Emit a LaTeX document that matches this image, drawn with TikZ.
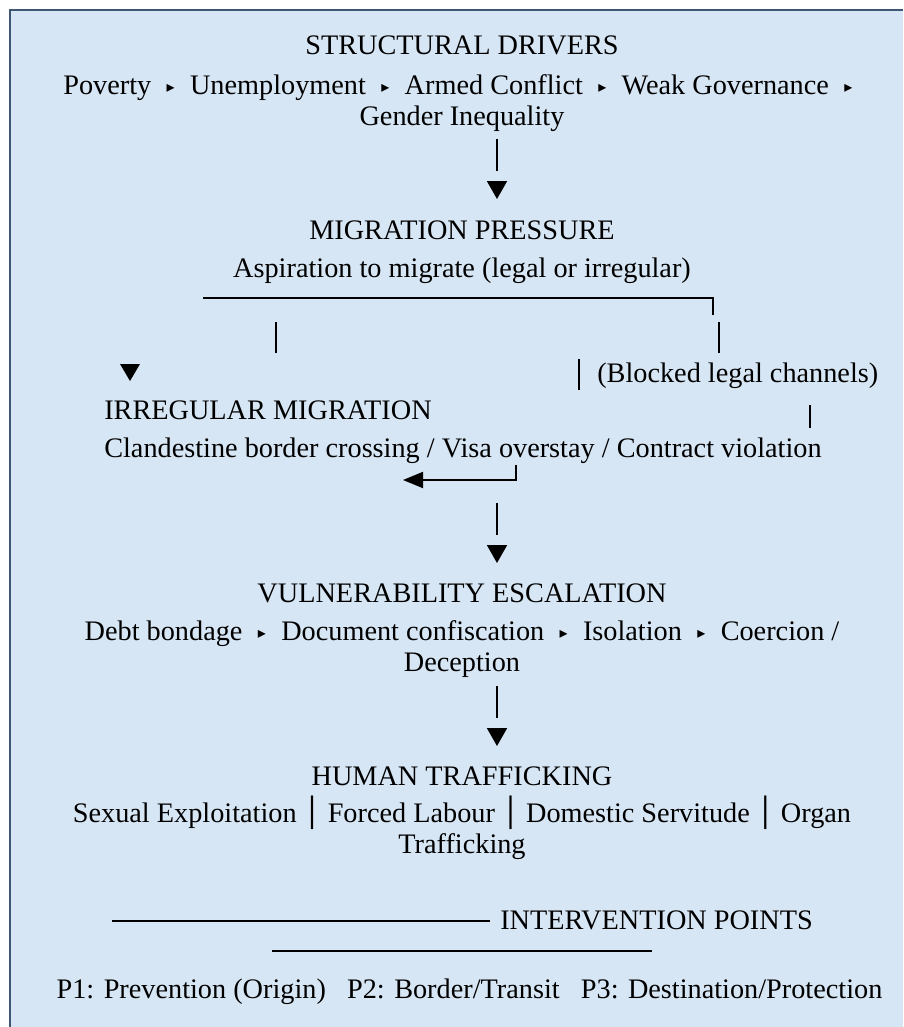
\documentclass[tikz,border=0pt]{standalone}
\usepackage{fontspec}
\setmainfont{Liberation Serif}
\newfontfamily\symfont{DejaVu Sans}
\usetikzlibrary{arrows.meta}
\definecolor{panel}{HTML}{D7E6F4}
\definecolor{frame}{HTML}{3F5675}
\newcommand{\nxt}{\makebox[18.5pt]{\raisebox{1.5pt}{\symfont\fontsize{12}{12}\selectfont ▸}}}
\newcommand{\sep}{{\symfont │}}

\begin{document}
\begin{tikzpicture}[x=0.75pt, y=-0.75pt, font=\fontsize{21.2}{23.25}\selectfont,
    txt/.style={anchor=base, inner sep=0pt, align=center},
    bar/.style={line width=1.4pt},
    down/.style={bar, dash pattern=on 24pt off 40pt, -{Triangle[width=15pt, length=13.5pt]}},
    back/.style={bar, -{Triangle[width=12pt, length=15pt]}}]
  \useasboundingbox (0,0) rectangle (903,1027);
  \fill[panel] (9.5,10.5) rectangle (903,1027);
  \draw[frame, line width=1.5pt] (903,10.5) -- (9.5,10.5) -- (9.5,1027);

  % stages (two-line nodes sit on their last line)
  \node[txt] (sd) at (462,55) {STRUCTURAL DRIVERS};
  \node[txt] (drv) at (462,126) {Poverty \nxt{} Unemployment \nxt{} Armed Conflict \nxt{} Weak Governance \nxt{}\\Gender Inequality};
  \node[txt] (mp) at (462,239) {MIGRATION PRESSURE};
  \node[txt] (asp) at (462,277) {Aspiration to migrate (legal or irregular)};
  \node[txt, anchor=base west] (blk) at (597,382) {(Blocked legal channels)};
  \node[txt, anchor=base west] (im) at (104,419) {IRREGULAR MIGRATION};
  \node[txt, anchor=base west] (imx) at (104,457) {Clandestine border crossing / Visa overstay / Contract violation};
  \node[txt] (ve) at (462,602) {VULNERABILITY ESCALATION};
  \node[txt] (vex) at (462,671) {Debt bondage \nxt{} Document confiscation \nxt{} Isolation \nxt{} Coercion /\\Deception};
  \node[txt] (ht) at (462,785) {HUMAN TRAFFICKING};
  \node[txt] (htx) at (462,853) {Sexual Exploitation \sep{} Forced Labour \sep{} Domestic Servitude \sep{} Organ\\Trafficking};
  \node[txt, anchor=base west] (ip) at (500,929) {INTERVENTION POINTS};
  \node[txt] (pts) at (469.5,998) {P1: Prevention (Origin)~~~P2: Border/Transit~~~P3: Destination/Protection};

  % connector ends
  \coordinate (s1) at (497,139);
  \coordinate (h1) at (497,199);
  \coordinate (s2) at (497,503);
  \coordinate (h2) at (497,563);
  \coordinate (s3) at (497,686);
  \coordinate (h3) at (497,746);
  \coordinate (fork) at (203,298);
  \coordinate (corner) at (713,298);
  \coordinate (cornerdn) at (713,315);
  \coordinate (bk) at (516,465);
  \coordinate (bkc) at (516,480);
  \coordinate (bkh) at (403,480);
  \coordinate (ipl) at (112,921);
  \coordinate (ipr) at (490,921);

  \draw[down] (s1) -- (h1);
  \draw[down] (s2) -- (h2);
  \draw[down] (s3) -- (h3);
  \draw[bar] (fork) -- (corner) -- (cornerdn);
  \draw[bar] (276,322) -- (276,353);
  \draw[bar] (719,322) -- (719,353);
  \fill (120,364) -- (140,364) -- (130,381) -- cycle;
  \draw[bar] (579,359) -- (579,390);
  \draw[bar] (810,405) -- (810,428);
  \draw[back] (bk) -- (bkc) -- (bkh);

  % intervention rules
  \draw[bar] (ipl) -- (ipr);
  \draw[bar] (272,951) -- (652,951);
\end{tikzpicture}
\end{document}
